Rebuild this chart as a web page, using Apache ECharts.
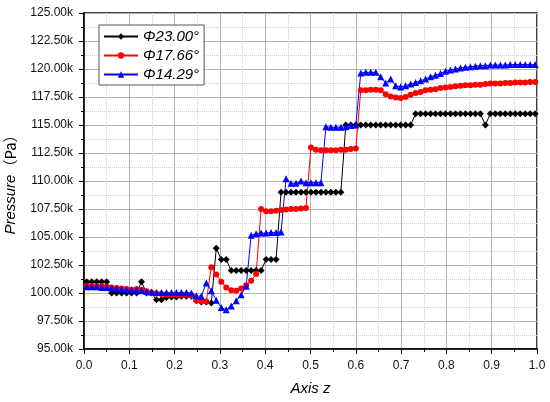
<!DOCTYPE html>
<html>
<head>
<meta charset="utf-8">
<script src="https://cdn.jsdelivr.net/npm/echarts@6/dist/echarts.min.js"></script>
<style>html,body{margin:0;padding:0;background:#fff}#chart{width:550px;height:402px}</style>
</head>
<body>
<div id="chart"></div>
<script>
// Axis z positions (shared by all series)
var axisZ = [0.006,0.017,0.028,0.039,0.050,0.061,0.072,0.083,0.094,0.105,
0.116,0.127,0.138,0.149,0.160,0.171,0.182,0.193,0.204,0.215,
0.226,0.237,0.248,0.259,0.270,0.281,0.292,0.303,0.314,0.325,
0.336,0.347,0.358,0.369,0.380,0.391,0.402,0.413,0.424,0.435,
0.446,0.457,0.468,0.479,0.490,0.501,0.512,0.523,0.534,0.545,
0.556,0.567,0.578,0.589,0.600,0.611,0.622,0.633,0.644,0.655,
0.666,0.677,0.688,0.699,0.710,0.721,0.732,0.743,0.754,0.765,
0.776,0.787,0.798,0.809,0.820,0.831,0.842,0.853,0.864,0.875,
0.886,0.897,0.908,0.919,0.930,0.941,0.952,0.963,0.974,0.985,
0.996];

// Pressure in kPa ("k" units of Pa)
var phi2300 = [101.0,101.0,101.0,101.0,101.0,
100.0,100.0,100.0,100.0,100.0,100.0,
101.0,
100.0,100.0,
99.4,99.4,99.6,99.65,99.65,99.7,99.7,99.7,
99.3,99.2,99.2,99.1,
104.0,
103.0,103.0,
102.0,102.0,102.0,102.0,102.0,102.0,102.0,
103.0,103.0,103.0,
109.0,109.0,109.0,109.0,109.0,109.0,109.0,109.0,109.0,109.0,109.0,109.0,109.0,
115.0,115.0,115.0,115.0,115.0,115.0,115.0,115.0,115.0,115.0,115.0,115.0,115.0,115.0,
116.0,116.0,116.0,116.0,116.0,116.0,116.0,116.0,116.0,116.0,116.0,116.0,116.0,116.0,
115.0,
116.0,116.0,116.0,116.0,116.0,116.0,116.0,116.0,116.0,116.0];

var phi1766 = [100.65,100.65,100.6,100.6,
100.55,100.5,100.45,100.4,100.35,
100.3,100.35,100.3,100.15,
100.05,99.95,99.9,
99.85,99.85,99.85,99.85,99.85,99.8,
99.35,99.25,99.25,
102.3,101.65,101.0,100.5,100.25,100.2,100.4,100.7,101.1,101.7,
107.5,107.3,107.3,107.35,107.4,107.45,107.5,107.5,107.55,107.6,
113.0,112.8,112.75,112.75,112.75,112.75,112.8,112.8,112.85,112.9,
118.1,118.1,118.15,118.15,
118.1,117.75,117.55,117.45,117.4,117.5,117.7,117.85,117.95,118.1,118.15,118.2,118.3,118.35,118.4,118.45,118.5,118.55,118.55,118.6,118.6,118.65,118.7,118.7,118.7,118.75,118.75,118.8,118.8,118.8,118.85,118.85];

var phi1429 = [100.55,100.55,100.55,100.5,100.5,
100.45,100.4,100.35,100.3,100.3,
100.25,100.2,100.15,
100.1,100.05,100.05,100.05,100.05,100.05,100.05,100.05,100.0,
99.75,99.7,
100.9,100.2,99.35,98.7,98.5,98.85,99.3,99.85,100.6,
105.15,105.3,105.35,105.35,105.4,105.4,105.45,
110.2,109.8,109.8,110.0,109.85,109.85,109.85,109.85,
114.85,114.8,114.8,114.8,114.85,114.95,115.0,
119.65,119.7,119.7,119.7,
119.3,118.75,119.1,118.5,118.4,118.5,118.65,118.8,118.95,119.1,119.3,119.45,119.6,119.8,119.9,120.0,120.1,120.15,120.2,120.25,120.3,120.3,120.35,120.35,120.35,120.35,120.4,120.4,120.4,120.4,120.4,120.4];

var seriesNames = ['\u03A623.00\u00B0','\u03A617.66\u00B0','\u03A614.29\u00B0'];
var seriesColors = ['#000000','#ff0000','#0000ff'];
var seriesSymbols = ['diamond','circle','triangle'];
var seriesSizes = [7,6,7];
var seriesValues = [phi2300, phi1766, phi1429];

function pairs(ys){ return ys.map(function(v,i){ return [axisZ[i], v]; }); }

var chart = echarts.init(document.getElementById('chart'), null, {renderer:'canvas'});
var font = 'Arial, "Liberation Sans", sans-serif';
chart.setOption({
  animation:false,
  backgroundColor:'#ffffff',
  grid:{left:84, top:13, width:453, height:336, containLabel:false, outerBoundsMode:'none',
        show:true, borderColor:'#000', borderWidth:1.5, backgroundColor:'transparent'},
  legend:{
    orient:'vertical', left:99, top:25,
    data:seriesNames,
    itemWidth:34, itemHeight:8, itemGap:4,
    padding:[4,5,3,4],
    borderColor:'#555', borderWidth:1, backgroundColor:'#fff',
    textStyle:{fontFamily:font, fontStyle:'italic', fontSize:15, color:'#000'}
  },
  xAxis:{
    type:'value', min:0, max:1, interval:0.1,
    name:'Axis z', nameLocation:'middle', nameGap:32,
    nameTextStyle:{fontFamily:font, fontStyle:'italic', fontSize:15, color:'#000'},
    axisLine:{show:true, lineStyle:{color:'#000', width:1.5}},
    axisTick:{show:true, inside:false, length:5, lineStyle:{color:'#000', width:1}},
    minorTick:{show:true, splitNumber:2, length:3, lineStyle:{color:'#000'}},
    axisLabel:{fontFamily:font, fontSize:12, color:'#111', margin:11, formatter:function(v){return v.toFixed(1);}},
    splitLine:{show:true, lineStyle:{color:'#b4b4b4', width:1}},
    minorSplitLine:{show:true, lineStyle:{color:'#d0d0d0', width:1, type:'dotted'}}
  },
  yAxis:{
    type:'value', min:95, max:125, interval:2.5,
    name:'{i|Pressure}{n|\uFF08Pa\uFF09}', nameLocation:'middle', nameGap:66, nameRotate:90,
    nameTextStyle:{rich:{
      i:{fontFamily:font, fontStyle:'italic', fontSize:15, color:'#000'},
      n:{fontFamily:'"Noto Sans CJK SC", Arial, sans-serif', fontSize:15, color:'#000'}
    }},
    axisLine:{show:true, lineStyle:{color:'#000', width:1.5}},
    axisTick:{show:true, inside:false, length:5, lineStyle:{color:'#000', width:1}},
    minorTick:{show:true, splitNumber:2, length:3, lineStyle:{color:'#000'}},
    axisLabel:{fontFamily:font, fontSize:12, color:'#111', margin:11, formatter:function(v){return v.toFixed(2)+'k';}},
    splitLine:{show:true, lineStyle:{color:'#b4b4b4', width:1}},
    minorSplitLine:{show:true, lineStyle:{color:'#d0d0d0', width:1, type:'dotted'}}
  },
  series: seriesNames.map(function(n,k){
    return {
      name:n, type:'line', data:pairs(seriesValues[k]),
      symbol:seriesSymbols[k], symbolSize:seriesSizes[k], showSymbol:true,
      lineStyle:{color:seriesColors[k], width:1},
      itemStyle:{color:seriesColors[k], borderWidth:0},
      clip:true
    };
  })
});
</script>
</body>
</html>
